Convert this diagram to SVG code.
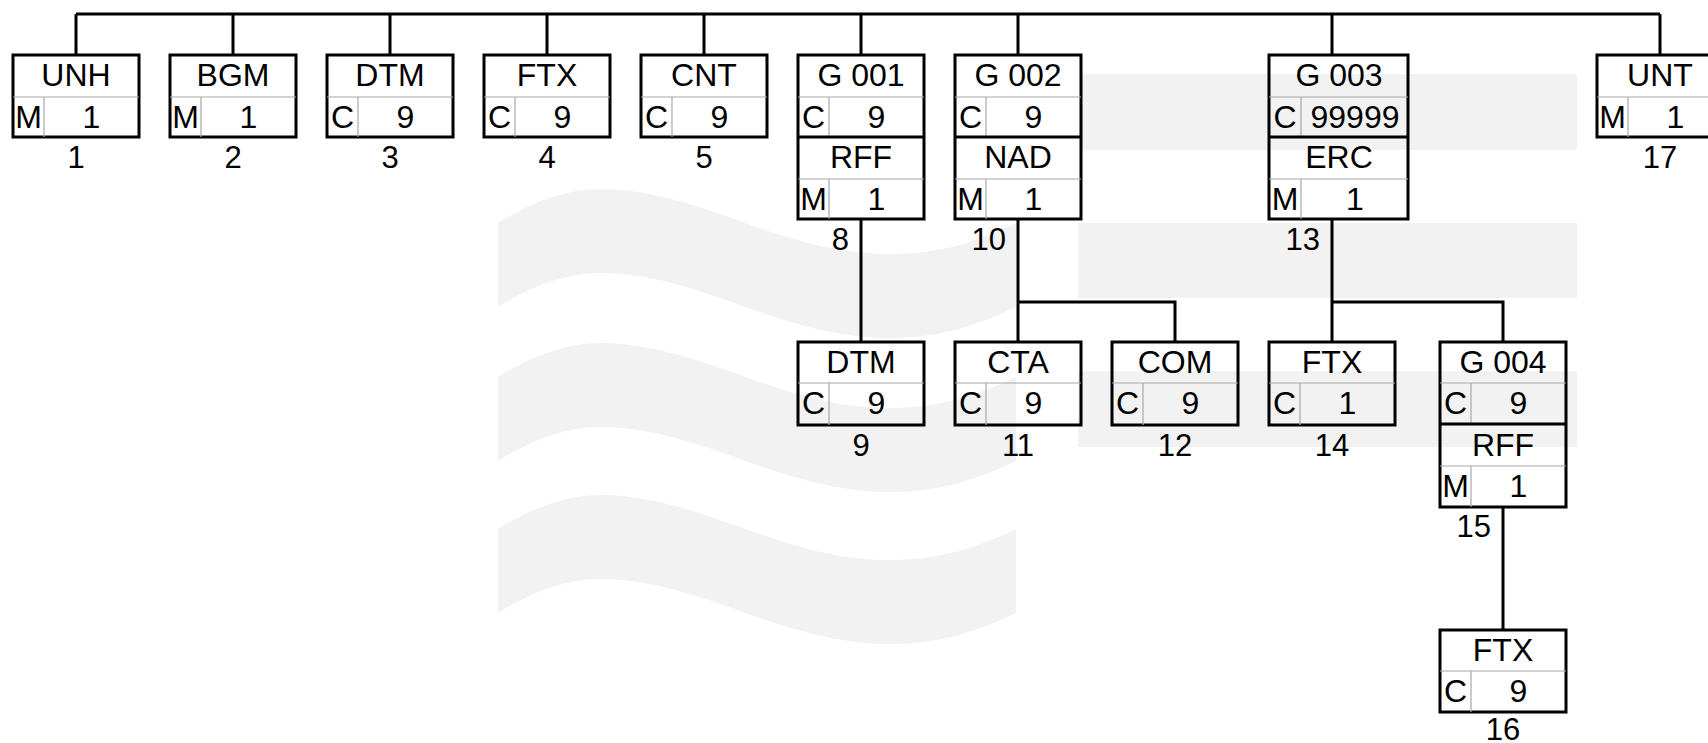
<svg xmlns="http://www.w3.org/2000/svg" width="1708" height="743" viewBox="0 0 1708 743">
<style>
.wm{fill:#f2f2f2;stroke:none}
.box{fill:none;stroke:#000;stroke-width:3}
.div{stroke:#a8a8a8;stroke-width:1.2;fill:none}
.sep{stroke:#000;stroke-width:3}
.con{fill:none;stroke:#000;stroke-width:3}
text{font-family:"Liberation Sans",Arial,sans-serif;font-size:32px;fill:#000;text-anchor:middle}
.num{font-size:31px}
.end{text-anchor:end}
</style>
<rect x="0" y="0" width="1708" height="743" fill="#fff"/>
<g id="watermark">
<path class="wm" transform="translate(0,223)" d="M498,0 C530,-20 565,-34 600,-34 C700,-34 780,31 890,31 C950,31 990,12 1016,0 V84 C990,96 950,115 890,115 C780,115 700,50 600,50 C565,50 530,64 498,84 Z"/>
<path class="wm" transform="translate(0,377)" d="M498,0 C530,-20 565,-34 600,-34 C700,-34 780,31 890,31 C950,31 990,12 1016,0 V84 C990,96 950,115 890,115 C780,115 700,50 600,50 C565,50 530,64 498,84 Z"/>
<path class="wm" transform="translate(0,529)" d="M498,0 C530,-20 565,-34 600,-34 C700,-34 780,31 890,31 C950,31 990,12 1016,0 V84 C990,96 950,115 890,115 C780,115 700,50 600,50 C565,50 530,64 498,84 Z"/>
<rect class="wm" x="1082" y="74" width="495" height="76"/>
<rect class="wm" x="1078" y="223" width="499" height="75"/>
<rect class="wm" x="1078" y="371" width="499" height="76"/>
</g>
<g id="connectors">
<path class="con" d="M76,14 H1660"/>
<path class="con" d="M76,14 V55 M233,14 V55 M390,14 V55 M547,14 V55 M704,14 V55 M861,14 V55 M1018,14 V55 M1332,14 V55 M1660,14 V55"/>
<path class="con" d="M861,219 V342"/>
<path class="con" d="M1018,219 V342"/>
<path class="con" d="M1018,302 H1175 V342"/>
<path class="con" d="M1332,219 V342"/>
<path class="con" d="M1332,302 H1503 V342"/>
<path class="con" d="M1503,507 V630"/>
</g>
<g id="n1">
<rect class="box" x="13" y="55" width="126" height="82"/>
<path class="div" d="M13,97 H139 M44,97 V137"/>
<text x="76" y="86">UNH</text><text x="28.5" y="128">M</text><text x="91.5" y="128">1</text>
<text class="num" x="76" y="168">1</text>
</g>
<g id="n2">
<rect class="box" x="170" y="55" width="126" height="82"/>
<path class="div" d="M170,97 H296 M201,97 V137"/>
<text x="233" y="86">BGM</text><text x="185.5" y="128">M</text><text x="248.5" y="128">1</text>
<text class="num" x="233" y="168">2</text>
</g>
<g id="n3">
<rect class="box" x="327" y="55" width="126" height="82"/>
<path class="div" d="M327,97 H453 M358,97 V137"/>
<text x="390" y="86">DTM</text><text x="342.5" y="128">C</text><text x="405.5" y="128">9</text>
<text class="num" x="390" y="168">3</text>
</g>
<g id="n4">
<rect class="box" x="484" y="55" width="126" height="82"/>
<path class="div" d="M484,97 H610 M515,97 V137"/>
<text x="547" y="86">FTX</text><text x="499.5" y="128">C</text><text x="562.5" y="128">9</text>
<text class="num" x="547" y="168">4</text>
</g>
<g id="n5">
<rect class="box" x="641" y="55" width="126" height="82"/>
<path class="div" d="M641,97 H767 M672,97 V137"/>
<text x="704" y="86">CNT</text><text x="656.5" y="128">C</text><text x="719.5" y="128">9</text>
<text class="num" x="704" y="168">5</text>
</g>
<g id="g001">
<rect class="box" x="798" y="55" width="126" height="164"/>
<path class="div" d="M798,97 H924 M829,97 V137 M798,179 H924 M829,179 V219"/>
<path class="sep" d="M798,137 H924"/>
<text x="861" y="86">G 001</text><text x="813.5" y="128">C</text><text x="876.5" y="128">9</text>
<text x="861" y="168">RFF</text><text x="813.5" y="210">M</text><text x="876.5" y="210">1</text>
<text class="num end" x="849" y="250">8</text>
</g>
<g id="g002">
<rect class="box" x="955" y="55" width="126" height="164"/>
<path class="div" d="M955,97 H1081 M986,97 V137 M955,179 H1081 M986,179 V219"/>
<path class="sep" d="M955,137 H1081"/>
<text x="1018" y="86">G 002</text><text x="970.5" y="128">C</text><text x="1033.5" y="128">9</text>
<text x="1018" y="168">NAD</text><text x="970.5" y="210">M</text><text x="1033.5" y="210">1</text>
<text class="num end" x="1006" y="250">10</text>
</g>
<g id="g003">
<rect class="box" x="1269" y="55" width="139" height="164"/>
<path class="div" d="M1269,97 H1408 M1301,97 V137 M1269,179 H1408 M1301,179 V219"/>
<path class="sep" d="M1269,137 H1408"/>
<text x="1339" y="86">G 003</text><text x="1285" y="128">C</text><text x="1355" y="128">99999</text>
<text x="1339" y="168">ERC</text><text x="1285" y="210">M</text><text x="1355" y="210">1</text>
<text class="num end" x="1320" y="250">13</text>
</g>
<g id="n17">
<rect class="box" x="1597" y="55" width="126" height="82"/>
<path class="div" d="M1597,97 H1723 M1628,97 V137"/>
<text x="1660" y="86">UNT</text><text x="1612.5" y="128">M</text><text x="1675.5" y="128">1</text>
<text class="num" x="1660" y="168">17</text>
</g>
<g id="n9">
<rect class="box" x="798" y="342" width="126" height="83"/>
<path class="div" d="M798,383 H924 M829,383 V425"/>
<text x="861" y="373">DTM</text><text x="813.5" y="414">C</text><text x="876.5" y="414">9</text>
<text class="num" x="861" y="456">9</text>
</g>
<g id="n11">
<rect class="box" x="955" y="342" width="126" height="83"/>
<path class="div" d="M955,383 H1081 M986,383 V425"/>
<text x="1018" y="373">CTA</text><text x="970.5" y="414">C</text><text x="1033.5" y="414">9</text>
<text class="num" x="1018" y="456">11</text>
</g>
<g id="n12">
<rect class="box" x="1112" y="342" width="126" height="83"/>
<path class="div" d="M1112,383 H1238 M1143,383 V425"/>
<text x="1175" y="373">COM</text><text x="1127.5" y="414">C</text><text x="1190.5" y="414">9</text>
<text class="num" x="1175" y="456">12</text>
</g>
<g id="n14">
<rect class="box" x="1269" y="342" width="126" height="83"/>
<path class="div" d="M1269,383 H1395 M1300,383 V425"/>
<text x="1332" y="373">FTX</text><text x="1284.5" y="414">C</text><text x="1347.5" y="414">1</text>
<text class="num" x="1332" y="456">14</text>
</g>
<g id="g004">
<rect class="box" x="1440" y="342" width="126" height="165"/>
<path class="div" d="M1440,383 H1566 M1471,383 V424 M1440,466 H1566 M1471,466 V507"/>
<path class="sep" d="M1440,424 H1566"/>
<text x="1503" y="373">G 004</text><text x="1455.5" y="414">C</text><text x="1518.5" y="414">9</text>
<text x="1503" y="456">RFF</text><text x="1455.5" y="497">M</text><text x="1518.5" y="497">1</text>
<text class="num end" x="1491" y="537">15</text>
</g>
<g id="n16">
<rect class="box" x="1440" y="630" width="126" height="82"/>
<path class="div" d="M1440,671 H1566 M1471,671 V712"/>
<text x="1503" y="661">FTX</text><text x="1455.5" y="702">C</text><text x="1518.5" y="702">9</text>
<text class="num" x="1503" y="740">16</text>
</g>
</svg>
